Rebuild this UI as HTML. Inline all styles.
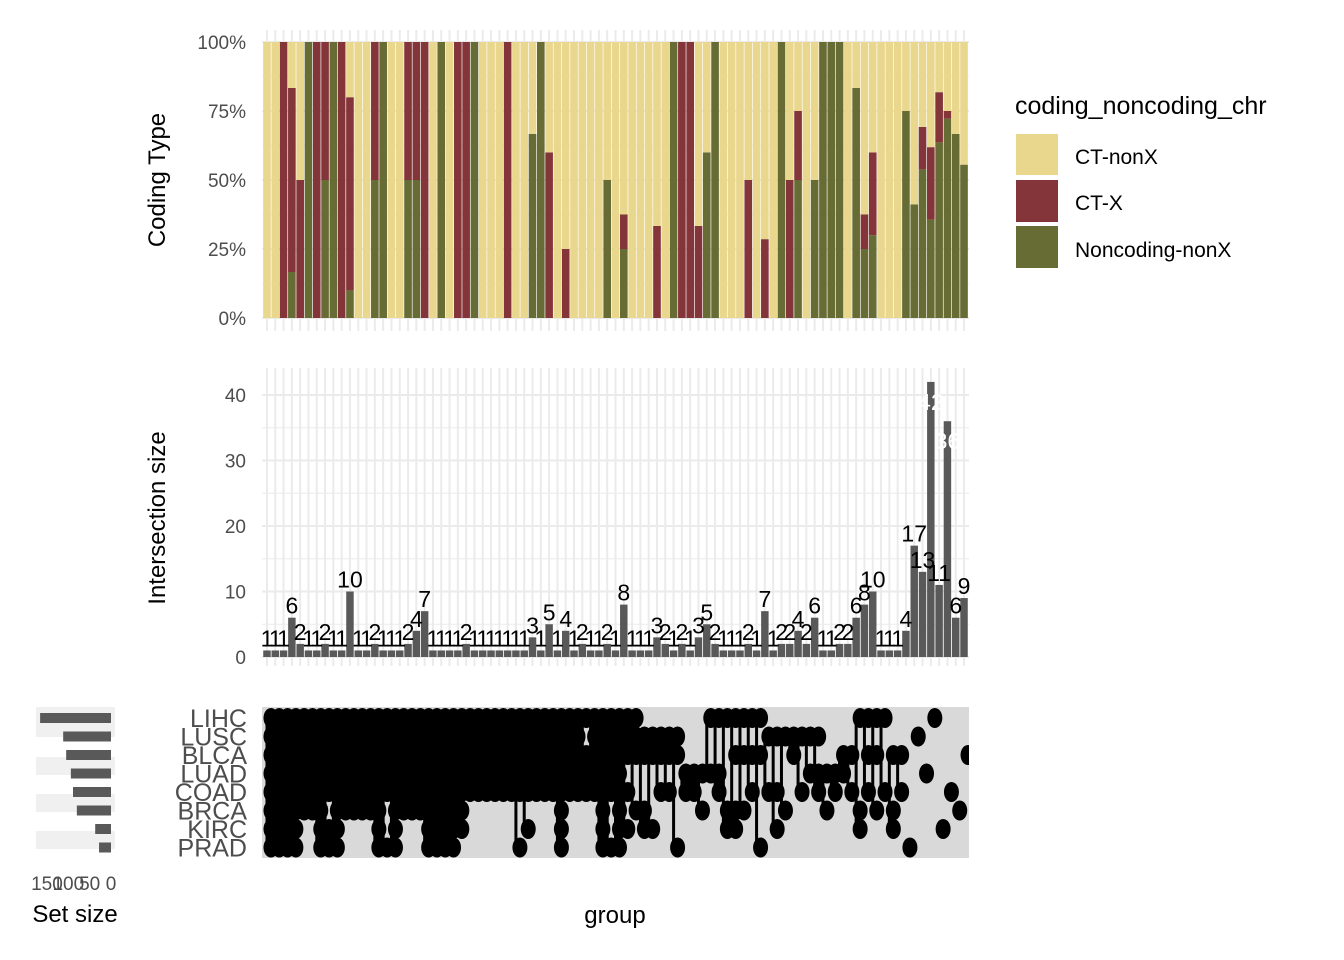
<!DOCTYPE html>
<html><head><meta charset="utf-8"><style>
html,body{margin:0;padding:0;background:#fff}
svg{display:block;font-family:"Liberation Sans",sans-serif}
</style></head><body>
<svg id="chart" width="1344" height="960" viewBox="0 0 1344 960">
<defs><clipPath id="matClip"><rect x="262" y="707" width="707" height="151"/></clipPath></defs>
<g id="gTop"></g>
<g id="gMid"></g>
<g id="gMat"></g>
<g id="gSet"></g>
<text x="165" y="180" font-size="24" fill="#000" text-anchor="middle" transform="rotate(-90 165 180)">Coding Type</text>
<text x="165" y="518" font-size="24" fill="#000" text-anchor="middle" transform="rotate(-90 165 518)">Intersection size</text>
<text x="615" y="923" font-size="24" fill="#000" text-anchor="middle">group</text>
<text x="75" y="922" font-size="24" fill="#000" text-anchor="middle">Set size</text>
<g>
<text x="1015" y="114" font-size="25" fill="#000">coding_noncoding_chr</text>
<rect x="1016" y="134" width="42" height="41" fill="#E9D78E"/>
<rect x="1016" y="180" width="42" height="42" fill="#843539"/>
<rect x="1016" y="226" width="42" height="42" fill="#666C33"/>
<text x="1075" y="164" font-size="21" fill="#000">CT-nonX</text>
<text x="1075" y="210" font-size="21" fill="#000">CT-X</text>
<text x="1075" y="257" font-size="21" fill="#000">Noncoding-nonX</text>
</g>
</svg>
<script>
const sizes=[1,1,1,6,2,1,1,2,1,1,10,1,1,2,1,1,1,2,4,7,
1,1,1,1,2,1,1,1,1,1,1,1,3,1,5,1,4,1,2,1,1,2,1,8,
1,1,1,3,2,1,2,1,3,5,2,1,1,1,2,1,7,1,2,2,4,2,6,1,1,2,2,6,8,10,1,1,1,4,17,13,42,11,36,6,9];
const noncoding=[0,0,0,1,0,1,0,1,1,0,1,0,0,1,1,0,0,1,2,0,
0,1,0,0,0,1,0,0,0,0,0,0,2,1,0,0,0,0,0,0,0,1,0,2,
0,0,0,0,0,1,0,0,0,3,2,0,0,0,0,0,0,0,2,0,2,0,3,1,1,2,0,5,2,3,0,0,0,3,7,7,15,7,26,4,5];
const ctx=[0,0,1,4,1,0,1,1,0,1,7,0,0,1,0,0,0,1,2,7,
0,0,0,1,2,0,0,0,0,1,0,0,0,0,3,0,1,0,0,0,0,0,0,1,
0,0,0,1,0,0,2,1,1,0,0,0,0,0,1,0,2,0,0,1,1,0,0,0,0,0,0,0,1,3,0,0,0,0,0,2,11,2,1,0,0];
const ctNonX=sizes.map((s,i)=>s-noncoding[i]-ctx[i]);
const setNames=["LIHC","LUSC","BLCA","LUAD","COAD","BRCA","KIRC","PRAD"];
const setSizes=[166,112,105,94,89,80,37,28];
const pctTicks=["0%","25%","50%","75%","100%"];
const countTicks=[0,10,20,30,40];
const setTicks=[150,100,50,0];
// membership per column (LIHC,LUSC,BLCA,LUAD,COAD,BRCA,KIRC,PRAD)
const members=[
"11111111","11111111","11111111","11111111","11111100","11111100","11111111","11111011",
"11111111","11111100","11111100","11111100","11111100","11111111","11111001","11111111",
"11111100","11111100","11111100","11111111","11111111","11111111","11111111","11111110",
"11111000","11111000","11111000","11111000","11111000","11111000","11111001","11111010",
"11111000","11111000","11111000","11111111","11111000","11111000","10111000","11111000",
"11111111","11111001","11111111",
"11101010","11100100","01100110","01100010","01101000","01101000","01100001",
"00011000","00011000","00010100","10010000","10011000","10000110","10100110",
"10100100","10101000","10100001","01001000","01001010","01000100","01100000",
"01001000","01010000","01011000","00010100","00011000","00110000","00101000",
"10000110","10101000","10100100","10001000","00100110","00101000",
"00000001","01000000","00010000","10000000","00000010","00001000","00000100","00100000"];
const NS="http://www.w3.org/2000/svg";
const N=sizes.length, X0=262, X1=969, step=(X1-X0)/(N+0.2);
const xc=i=>X0+(i+0.6)*step;
function mk(tag,attrs,parent){const e=document.createElementNS(NS,tag);for(const k in attrs)e.setAttribute(k,attrs[k]);parent.appendChild(e);return e;}
// ---------- top panel ----------
const gT=document.getElementById('gTop');
const yT=p=>318-p*276;
for(let i=0;i<N;i++){const l=mk('line',{x1:xc(i),x2:xc(i),y1:30,y2:331,stroke:'#ebebeb','stroke-width':2},gT);
}
for(let k=0;k<9;k++){const l=mk('line',{x1:262,x2:969,y1:yT(k/8),y2:yT(k/8),stroke:'#ebebeb','stroke-width':k%2?1:2},gT);
}
pctTicks.forEach((t,k)=>{const e=mk('text',{x:246,y:yT(k/4)+7,'font-size':19,fill:'#4d4d4d','text-anchor':'end'},gT);e.textContent=t;
});
const cols=['#666C33','#843539','#E9D78E'];
for(let i=0;i<N;i++){let acc=0;const parts=[noncoding[i],ctx[i],ctNonX[i]];
parts.forEach((v,j)=>{if(v<=0)return;const p0=acc/sizes[i],p1=(acc+v)/sizes[i];acc+=v;
const r=mk('rect',{x:xc(i)-step*0.46,width:step*0.92,y:yT(p1),height:yT(p0)-yT(p1),fill:cols[j]},gT);
});}
// ---------- middle panel ----------
const gM=document.getElementById('gMid');
const yM=v=>657-v*6.55;
for(let i=0;i<N;i++){const l=mk('line',{x1:xc(i),x2:xc(i),y1:368,y2:666,stroke:'#ebebeb','stroke-width':2},gM);
}
for(let v=0;v<=44;v+=5){if(yM(v)<368)continue;const l=mk('line',{x1:262,x2:969,y1:yM(v),y2:yM(v),stroke:'#ebebeb','stroke-width':v%10?1:2},gM);
}
countTicks.forEach(t=>{const e=mk('text',{x:246,y:yM(t)+7,'font-size':19,fill:'#4d4d4d','text-anchor':'end'},gM);e.textContent=t;
});
for(let i=0;i<N;i++){const r=mk('rect',{x:xc(i)-step*0.45,width:step*0.9,y:yM(sizes[i]),height:yM(0)-yM(sizes[i]),fill:'#595959'},gM);
}
for(let i=0;i<N;i++){const big=sizes[i]>30;
const t=mk('text',{x:xc(i),y:big?yM(sizes[i])+28:yM(sizes[i])-4,'font-size':23,fill:big?'#fff':'#000','text-anchor':'middle'},gM);t.textContent=sizes[i];
}
// ---------- matrix ----------
const gX=document.getElementById('gMat');
const rowY=r=>718+r*18.5;
const bg=mk('rect',{x:262,y:707,width:707,height:151,fill:'#d9d9d9'},gX);

setNames.forEach((s,r)=>{const t=mk('text',{x:247,y:rowY(r)+9,'font-size':25,fill:'#4d4d4d','text-anchor':'end'},gX);t.textContent=s;
});
const gC=mk('g',{'clip-path':'url(#matClip)'},gX);


for(let i=0;i<N;i++){const m=members[i];let mn=9,mx=-1;
for(let r=0;r<8;r++)if(m[r]==='1'){mn=Math.min(mn,r);mx=Math.max(mx,r);}
if(mx>mn){const l=mk('line',{x1:xc(i),x2:xc(i),y1:rowY(mn),y2:rowY(mx),stroke:'#000','stroke-width':3},gC);
}
for(let r=0;r<8;r++)if(m[r]==='1'){const d=mk('ellipse',{cx:xc(i)+4,cy:rowY(r),rx:7.5,ry:10,fill:'#000'},gC);
}}
// ---------- set size ----------
const gS=document.getElementById('gSet');
const xS=v=>111-v*0.427;
[[707,737],[757,775],[794,812],[831,849]].forEach(b=>{const r=mk('rect',{x:36,y:b[0],width:79,height:b[1]-b[0],fill:'#f0f0f0'},gS);
});
setSizes.forEach((v,r)=>{const b=mk('rect',{x:xS(v),y:rowY(r)-5,width:111-xS(v),height:10,fill:'#595959'},gS);
});
setTicks.forEach(t=>{const e=mk('text',{x:xS(t),y:890,'font-size':19,fill:'#4d4d4d','text-anchor':'middle'},gS);e.textContent=t;
});
</script>
</body></html>
